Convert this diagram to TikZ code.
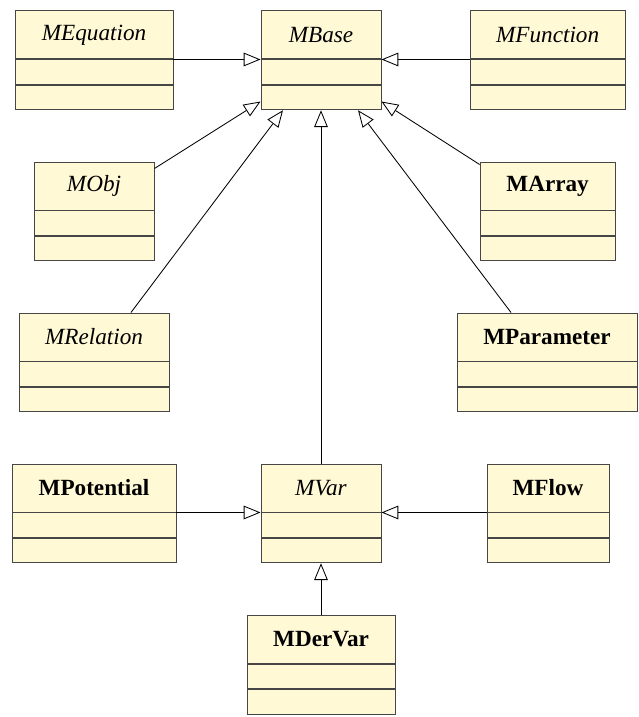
\documentclass[tikz,border=0pt]{standalone}
\usepackage{fontspec}
\setmainfont{LiberationSerif}[Extension=.ttf, UprightFont=*-Regular, BoldFont=*-Bold, ItalicFont=*-Italic, BoldItalicFont=*-BoldItalic]
\usetikzlibrary{positioning,arrows.meta}
\definecolor{classfill}{RGB}{255,249,214}
\definecolor{classline}{RGB}{70,70,70}
\begin{document}
\begin{tikzpicture}[
  title/.style={rectangle, draw=classline, fill=classfill, line width=0.7pt, minimum height=1.2cm, inner sep=0pt, font=\fontsize{16.5}{20}\selectfont},
  part/.style={rectangle, draw=classline, fill=classfill, line width=0.7pt, minimum height=0.61cm, inner sep=0pt},
  inherit/.style={-{Triangle[open, length=0.42cm, width=0.34cm]}, line width=0.6pt}
]
\useasboundingbox (0,0) rectangle (15.95,17.925);

% Top row: MEquation, MBase, MFunction
\node[title, minimum width=3.95cm] (eq) at (2.35,17.05) {\textit{MEquation}};
\node[part, minimum width=3.95cm, below=0pt of eq] (eq-a) {};
\node[part, minimum width=3.95cm, below=0pt of eq-a] (eq-b) {};

\node[title, minimum width=3cm] (base) at (8.025,17.05) {\textit{MBase}};
\node[part, minimum width=3cm, below=0pt of base] (base-a) {};
\node[part, minimum width=3cm, below=0pt of base-a] (base-b) {};

\node[title, minimum width=3.875cm] (fn) at (13.69,17.05) {\textit{MFunction}};
\node[part, minimum width=3.875cm, below=0pt of fn] (fn-a) {};
\node[part, minimum width=3.875cm, below=0pt of fn-a] (fn-b) {};

% Second row: MObj, MArray
\node[title, minimum width=3cm] (obj) at (2.35,13.275) {\textit{MObj}};
\node[part, minimum width=3cm, below=0pt of obj] (obj-a) {};
\node[part, minimum width=3cm, below=0pt of obj-a] (obj-b) {};

\node[title, minimum width=3.375cm] (arr) at (13.69,13.275) {\textbf{MArray}};
\node[part, minimum width=3.375cm, below=0pt of arr] (arr-a) {};
\node[part, minimum width=3.375cm, below=0pt of arr-a] (arr-b) {};

% Third row: MRelation, MParameter
\node[title, minimum width=3.75cm] (rel) at (2.35,9.5) {\textit{MRelation}};
\node[part, minimum width=3.75cm, below=0pt of rel] (rel-a) {};
\node[part, minimum width=3.75cm, below=0pt of rel-a] (rel-b) {};

\node[title, minimum width=4.5cm] (par) at (13.675,9.5) {\textbf{MParameter}};
\node[part, minimum width=4.5cm, below=0pt of par] (par-a) {};
\node[part, minimum width=4.5cm, below=0pt of par-a] (par-b) {};

% Fourth row: MPotential, MVar, MFlow
\node[title, minimum width=4.1cm] (pot) at (2.35,5.725) {\textbf{MPotential}};
\node[part, minimum width=4.1cm, below=0pt of pot] (pot-a) {};
\node[part, minimum width=4.1cm, below=0pt of pot-a] (pot-b) {};

\node[title, minimum width=3cm] (var) at (8.025,5.725) {\textit{MVar}};
\node[part, minimum width=3cm, below=0pt of var] (var-a) {};
\node[part, minimum width=3cm, below=0pt of var-a] (var-b) {};

\node[title, minimum width=3.05cm] (flow) at (13.7,5.725) {\textbf{MFlow}};
\node[part, minimum width=3.05cm, below=0pt of flow] (flow-a) {};
\node[part, minimum width=3.05cm, below=0pt of flow-a] (flow-b) {};

% Bottom row: MDerVar
\node[title, minimum width=3.7cm] (dvar) at (8.025,1.9375) {\textbf{MDerVar}};
\node[part, minimum width=3.7cm, below=0pt of dvar] (dvar-a) {};
\node[part, minimum width=3.7cm, below=0pt of dvar-a] (dvar-b) {};

% Generalisations to MBase
\draw[inherit] (eq.south east) -- (base.south west);
\draw[inherit] (fn.south west) -- (base.south east);
\draw[inherit] ([yshift=-0.175cm]obj.north east) -- ([yshift=-0.1cm]base-b.west);
\draw[inherit] ([yshift=-0.075cm]arr.north west) -- ([yshift=-0.1cm]base-b.east);
\draw[inherit] ([xshift=0.925cm]rel.north) -- ([xshift=-0.95cm]base-b.south);
\draw[inherit] ([xshift=-0.9cm]par.north) -- ([xshift=0.925cm]base-b.south);
\draw[inherit] (var.north) -- (base-b.south);

% Generalisations to MVar
\draw[inherit] (pot.south east) -- (var.south west);
\draw[inherit] (flow.south west) -- (var.south east);
\draw[inherit] (dvar.north) -- (var-b.south);

\end{tikzpicture}
\end{document}
